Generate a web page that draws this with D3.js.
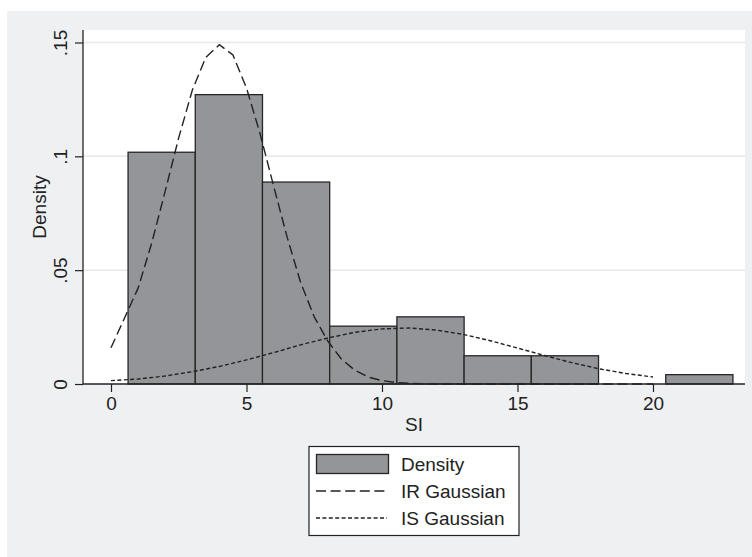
<!DOCTYPE html>
<html>
<head>
<meta charset="utf-8">
<script src="https://cdn.jsdelivr.net/npm/d3@7"></script>
<style>
  body { margin: 0; background: #fff; }
  text { font-family: "Liberation Sans", Arial, Helvetica, sans-serif; fill: #222; }
</style>
</head>
<body>
<svg id="chart"></svg>
<script>
/* Histogram of SI with two fitted Gaussian components */
var w = 752, h = 557;

// histogram bins (lower edges) and densities
var binEdges = [0.63, 3.11, 5.59, 8.07, 10.55, 13.03, 15.51, 17.99, 20.47, 22.95];
var densities = [0.1018, 0.1271, 0.0887, 0.0254, 0.0295, 0.0124, 0.0124, 0, 0.0041];

// IR Gaussian curve
var irX = [0, 0.5, 1, 1.5, 2, 2.5, 3, 3.5, 4, 4.5, 5, 5.5, 6, 6.5, 7, 7.5, 8, 8.5, 9, 9.5,
           10, 10.5, 11, 11.5, 12, 14, 16, 18, 20];
var irY = [0.0159, 0.0290, 0.0421, 0.0618, 0.0847, 0.1082, 0.1290, 0.1435, 0.1490, 0.1445,
           0.1300, 0.1100, 0.0870, 0.0645, 0.0445, 0.0295, 0.0188, 0.0110, 0.0060, 0.0030,
           0.0015, 0.0007, 0.0003, 0.0001, 0, 0, 0, 0, 0];

// IS Gaussian curve
var isX = [0, 1, 2, 3, 4, 5, 6, 7, 8, 9, 10, 11, 12, 13, 14, 15, 16, 17, 18, 19, 20];
var isY = [0.0015, 0.0022, 0.0035, 0.0054, 0.0077, 0.0106, 0.0138, 0.0172, 0.0202, 0.0227,
           0.0242, 0.0246, 0.0237, 0.0218, 0.0190, 0.0158, 0.0125, 0.0094, 0.0067, 0.0046, 0.0031];

var xTicks = [0, 5, 10, 15, 20];
var yTicks = [0, 0.05, 0.1, 0.15];
var yTickLabels = ["0", ".05", ".1", ".15"];
var legendLabels = ["Density", "IR Gaussian", "IS Gaussian"];

var plot = {left: 83, right: 745, top: 30, bottom: 384};

var svg = d3.select("#chart")
            .attr("width", w)
            .attr("height", h);

// outer gray region and white plot region
svg.append("rect")
   .attr("x", 7).attr("y", 11)
   .attr("width", w - 7).attr("height", h - 11)
   .attr("fill", "#eef0f2");

svg.append("rect")
   .attr("x", plot.left).attr("y", plot.top)
   .attr("width", plot.right - plot.left).attr("height", plot.bottom - plot.top)
   .attr("fill", "#fff");

var x = d3.scaleLinear()
          .domain([-1.033, 23.395])
          .range([plot.left, plot.right]);

var y = d3.scaleLinear()
          .domain([0, 0.15])
          .range([plot.bottom, 42.5]);

// grid lines
svg.append("g")
   .selectAll("line")
   .data(yTicks.slice(1))
   .enter()
   .append("line")
   .attr("x1", plot.left).attr("x2", plot.right)
   .attr("y1", function(d) { return y(d); })
   .attr("y2", function(d) { return y(d); })
   .attr("stroke", "#e6e8ea")
   .attr("stroke-width", 1.5);

// bars
var bins = densities.map(function(d, i) {
  return {x0: binEdges[i], x1: binEdges[i + 1], d: d};
}).filter(function(b) { return b.d > 0; });

svg.append("g")
   .selectAll("rect")
   .data(bins)
   .enter()
   .append("rect")
   .attr("x", function(b) { return x(b.x0); })
   .attr("width", function(b) { return x(b.x1) - x(b.x0); })
   .attr("y", function(b) { return y(b.d); })
   .attr("height", function(b) { return y(0) - y(b.d); })
   .attr("fill", "#939598")
   .attr("stroke", "#262626")
   .attr("stroke-width", 1.3);

// curves
var line = d3.line()
             .x(function(d) { return x(d[0]); })
             .y(function(d) { return y(d[1]); });

svg.append("path")
   .datum(d3.zip(irX, irY))
   .attr("d", line)
   .attr("fill", "none")
   .attr("stroke", "#222")
   .attr("stroke-width", 1.4)
   .attr("stroke-dasharray", "10,4.6");

svg.append("path")
   .datum(d3.zip(isX, isY))
   .attr("d", line)
   .attr("fill", "none")
   .attr("stroke", "#222")
   .attr("stroke-width", 1.4)
   .attr("stroke-dasharray", "4,2.4");

// axes
var xAxis = svg.append("g")
               .attr("transform", "translate(0," + plot.bottom + ")")
               .call(d3.axisBottom(x).tickValues(xTicks).tickSize(8).tickSizeOuter(0));

var yAxis = svg.append("g")
               .attr("transform", "translate(" + plot.left + ",0)")
               .call(d3.axisLeft(y).tickValues(yTicks).tickSize(8).tickSizeOuter(0)
                       .tickFormat(function(d, i) { return yTickLabels[i]; }));

[xAxis, yAxis].forEach(function(a) {
  a.select(".domain").attr("stroke", "#222").attr("stroke-width", 1.3);
  a.selectAll(".tick line").attr("stroke", "#222").attr("stroke-width", 1.2);
  a.selectAll("text").attr("font-size", 19).attr("fill", "#222")
   .attr("font-family", "Liberation Sans, Arial, sans-serif");
});
xAxis.select(".domain").attr("d", "M" + plot.left + ",0H" + plot.right);
yAxis.select(".domain").attr("d", "M0," + plot.bottom + "V" + plot.top);

xAxis.selectAll(".tick text")
     .attr("y", 26).attr("dy", null);

yAxis.selectAll(".tick text")
     .attr("x", null).attr("dy", null)
     .attr("text-anchor", "middle")
     .attr("transform", "translate(-16,0) rotate(-90)");

// axis titles
svg.append("text")
   .attr("x", (plot.left + plot.right) / 2)
   .attr("y", 431)
   .attr("text-anchor", "middle")
   .attr("font-size", 19)
   .text("SI");

svg.append("text")
   .attr("transform", "translate(46," + (plot.top + plot.bottom) / 2 + ") rotate(-90)")
   .attr("text-anchor", "middle")
   .attr("font-size", 19)
   .text("Density");

// legend
var legend = svg.append("g");
legend.append("rect")
      .attr("x", 309).attr("y", 446.5)
      .attr("width", 210).attr("height", 89)
      .attr("fill", "#fff")
      .attr("stroke", "#222")
      .attr("stroke-width", 1.2);

legend.append("rect")
      .attr("x", 316.5).attr("y", 454.5)
      .attr("width", 72).attr("height", 19)
      .attr("fill", "#939598")
      .attr("stroke", "#262626")
      .attr("stroke-width", 1.3);

legend.append("line")
      .attr("x1", 316).attr("x2", 389)
      .attr("y1", 491).attr("y2", 491)
      .attr("stroke", "#222").attr("stroke-width", 1.4)
      .attr("stroke-dasharray", "10,4.6");

legend.append("line")
      .attr("x1", 316).attr("x2", 387)
      .attr("y1", 518).attr("y2", 518)
      .attr("stroke", "#222").attr("stroke-width", 1.4)
      .attr("stroke-dasharray", "4,2.4");

legend.selectAll("text.lab")
      .data(legendLabels)
      .enter()
      .append("text")
      .attr("class", "lab")
      .attr("x", 401)
      .attr("y", function(d, i) { return 471 + i * 27; })
      .attr("font-size", 19)
      .text(function(d) { return d; });
</script>
</body>
</html>
